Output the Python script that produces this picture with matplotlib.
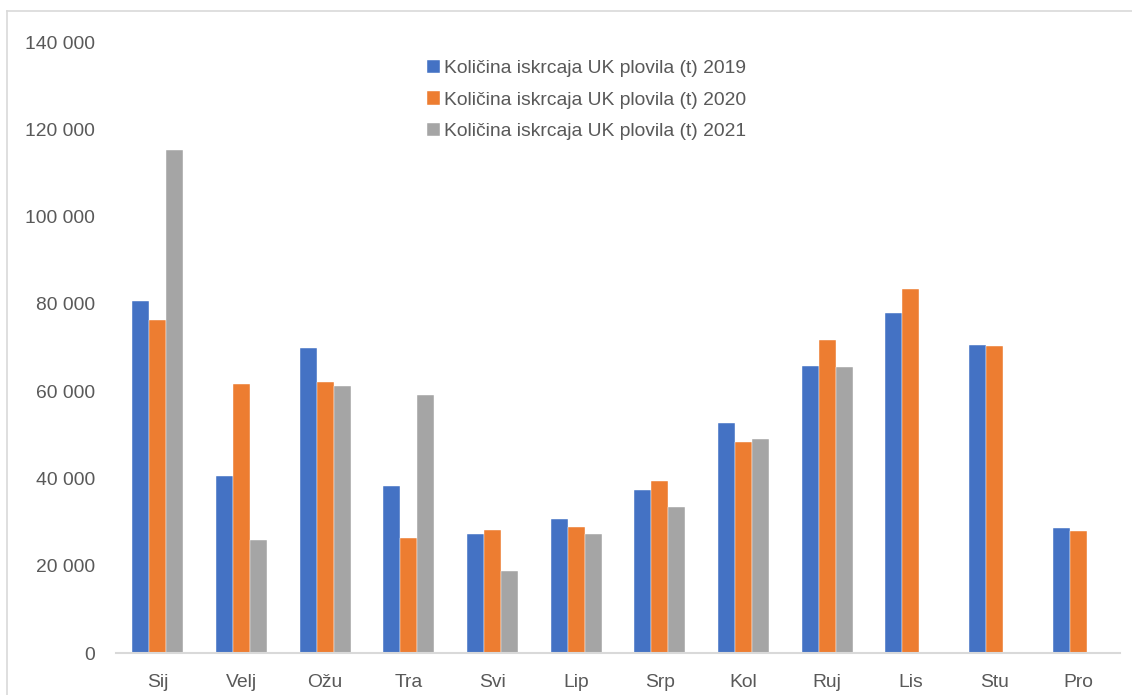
import matplotlib
matplotlib.use("Agg")
import matplotlib.pyplot as plt
import numpy as np
from matplotlib.lines import Line2D
from matplotlib.ticker import FuncFormatter
from matplotlib import font_manager

months = ["Sij", "Velj", "Ožu", "Tra", "Svi", "Lip", "Srp", "Kol", "Ruj", "Lis", "Stu", "Pro"]
v2019 = [80600, 40500, 69900, 38200, 27200, 30800, 37400, 52700, 65700, 77900, 70500, 28700]
v2020 = [76300, 61600, 62100, 26300, 28100, 28800, 39400, 48300, 71700, 83400, 70300, 27900]
v2021 = [115200, 25900, 61200, 59100, 18900, 27200, 33400, 49000, 65500, np.nan, np.nan, np.nan]
series_labels = ["Količina iskrcaja UK plovila (t) 2019",
                 "Količina iskrcaja UK plovila (t) 2020",
                 "Količina iskrcaja UK plovila (t) 2021"]
colors = ["#4472C4", "#ED7D31", "#A5A5A5"]

names = {f.name for f in font_manager.fontManager.ttflist}
if "Liberation Sans Narrow" in names:
    plt.rcParams['font.family'] = ['Liberation Sans Narrow', 'DejaVu Sans']
    FS = 16.5
else:
    plt.rcParams['font.family'] = ['Liberation Sans', 'DejaVu Sans']
    FS = 13.9
TXT = "#595959"

W, H = 1132, 695
fig = plt.figure(figsize=(W / 100, H / 100), dpi=100)
ax = fig.add_axes([116 / W, (H - 653) / H, (1120 - 116) / W, (653 - 42) / H])

x = np.arange(len(months))
bw = 0.203
for i, (vals, c, lab) in enumerate(zip([v2019, v2020, v2021], colors, series_labels)):
    ax.bar(x + (i - 1) * bw, vals, width=bw, color=c, label=lab,
           edgecolor="white", linewidth=0.3)

ax.set_xlim(-0.5, len(months) - 0.5)
ax.set_ylim(0, 140000)
ax.set_yticks(np.arange(0, 140001, 20000))
ax.yaxis.set_major_formatter(FuncFormatter(lambda v, p: f"{int(v):,}".replace(",", " ")))
ax.set_xticks(x)
ax.set_xticklabels(months)
for s in ["top", "right", "left"]:
    ax.spines[s].set_visible(False)
ax.spines["bottom"].set_color("#D9D9D9")
ax.spines["bottom"].set_linewidth(1.5)
ax.tick_params(axis="both", length=0, labelsize=FS, colors=TXT)
ax.tick_params(axis="y", pad=15)
ax.tick_params(axis="x", pad=15)

leg = ax.legend(loc="upper left", bbox_to_anchor=(427 / W, 1 - 60 / H),
                bbox_transform=fig.transFigure, frameon=False, fontsize=FS,
                handlelength=0.68, handleheight=0.68, handletextpad=0.22,
                labelspacing=0.72, borderpad=0, borderaxespad=0)
for t in leg.get_texts():
    t.set_color(TXT)

# outer chart frame (cut off at right/bottom)
fig.add_artist(Line2D([6.5 / W, 6.5 / W], [0, 1 - 10.5 / H], transform=fig.transFigure,
                      color="#D9D9D9", linewidth=1.2))
fig.add_artist(Line2D([6.5 / W, 1], [1 - 10.5 / H, 1 - 10.5 / H], transform=fig.transFigure,
                      color="#D9D9D9", linewidth=1.2))

fig.savefig("out.png", dpi=100)
